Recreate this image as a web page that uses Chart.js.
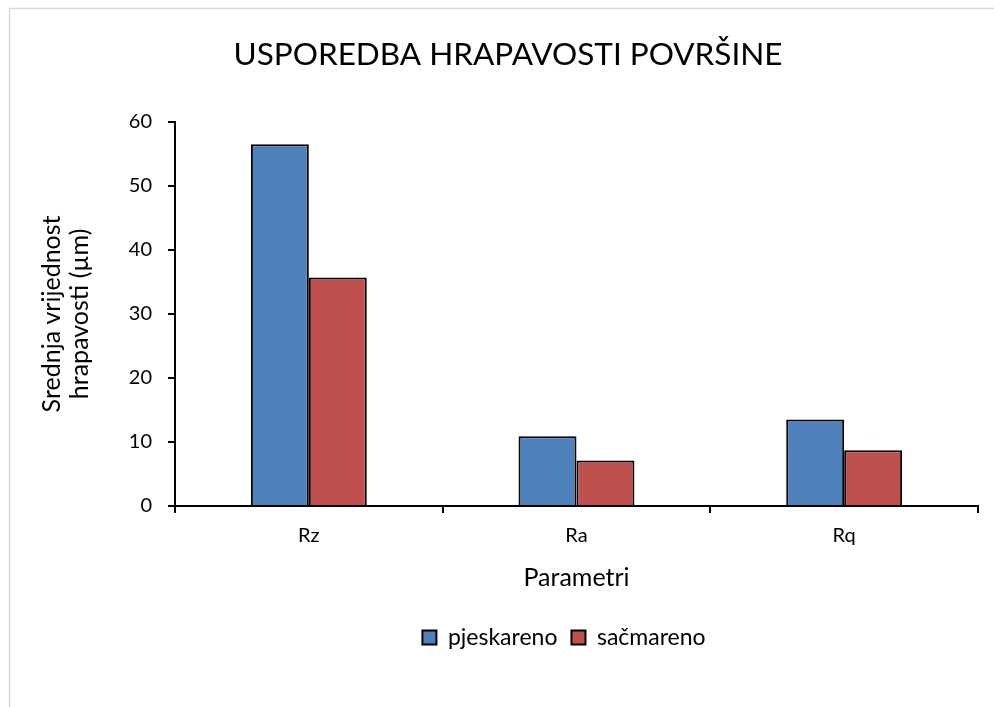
<!DOCTYPE html>
<html>
<head>
<meta charset="utf-8">
<script src="https://cdn.jsdelivr.net/npm/chart.js@4"></script>
<style>
  html, body { margin: 0; padding: 0; background: #ffffff; }
  #wrap { width: 994px; height: 707px; position: relative; }
</style>
</head>
<body>
<div id="wrap"><canvas id="c" width="994" height="707"></canvas></div>
<script>
const categories = ['Rz', 'Ra', 'Rq'];
const seriesNames = ['pjeskareno', 'sačmareno'];
const pjeskareno = [56.5, 10.9, 13.5];
const sacmareno = [35.7, 7.1, 8.7];
const yTicks = [0, 10, 20, 30, 40, 50, 60];

const FONT = 'Lato, "Open Sans", sans-serif';

const framePlugin = {
  id: 'frame',
  beforeDraw(chart) {
    const ctx = chart.ctx;
    ctx.save();
    ctx.fillStyle = '#ffffff';
    ctx.fillRect(0, 0, chart.width, chart.height);
    ctx.strokeStyle = '#d9d9d9';
    ctx.lineWidth = 1.5;
    ctx.beginPath();
    ctx.moveTo(9.5, chart.height);
    ctx.lineTo(9.5, 8.5);
    ctx.lineTo(chart.width, 8.5);
    ctx.stroke();
    ctx.restore();
  }
};

// shift the legend to the right, as in the reference
const legendShift = {
  id: 'legendShift',
  afterLayout(chart) {
    const lg = chart.legend;
    if (lg) { lg.left += 56; lg.right += 56; }
  }
};

new Chart(document.getElementById('c'), {
  type: 'bar',
  data: {
    labels: categories,
    datasets: [
      { label: seriesNames[0], data: pjeskareno, backgroundColor: '#4F81BD', borderColor: '#000000', borderWidth: 2 },
      { label: seriesNames[1], data: sacmareno, backgroundColor: '#C0504D', borderColor: '#000000', borderWidth: 2 }
    ]
  },
  options: {
    responsive: false,
    animation: false,
    devicePixelRatio: 1,
    layout: { padding: { left: 38, right: 16, top: 0, bottom: 48 } },
    datasets: { bar: { categoryPercentage: 0.433, barPercentage: 1.0 } },
    plugins: {
      title: {
        display: true,
        text: 'USPOREDBA HRAPAVOSTI POVRŠINE',
        color: '#000000',
        font: { family: FONT, size: 31.5, weight: 'normal', lineHeight: 1.2 },
        padding: { top: 36, bottom: 48 }
      },
      legend: {
        position: 'bottom',
        labels: {
          color: '#000000',
          font: { family: FONT, size: 23 },
          boxWidth: 14,
          boxHeight: 14,
          padding: 14
        }
      },
      tooltip: { enabled: false }
    },
    scales: {
      x: {
        grid: { display: true, drawOnChartArea: false, drawTicks: true, tickLength: 7, color: '#000000', lineWidth: 2, offset: true },
        border: { display: true, color: '#000000', width: 2 },
        ticks: { color: '#000000', font: { family: FONT, size: 20 }, padding: 11 },
        title: { display: true, text: 'Parametri', color: '#000000', font: { family: FONT, size: 25, lineHeight: 1.2 }, padding: { top: 0, bottom: 19 } },
        afterFit(scale) { scale.height = 106; }
      },
      y: {
        min: 0,
        max: 60,
        afterBuildTicks(scale) { scale.ticks = yTicks.map(v => ({ value: v })); },
        grid: { display: true, drawOnChartArea: false, drawTicks: true, tickLength: 7, color: '#000000', lineWidth: 2 },
        border: { display: true, color: '#000000', width: 2 },
        ticks: { color: '#000000', font: { family: FONT, size: 20 }, padding: 16 },
        title: { display: true, text: ['Srednja vrijednost', 'hrapavosti (µm)'], color: '#000000', font: { family: FONT, size: 25, lineHeight: 1.12 }, padding: { top: 0, bottom: 0 } },
        afterFit(scale) { scale.width = 137; }
      }
    }
  },
  plugins: [framePlugin, legendShift]
});
</script>
</body>
</html>
